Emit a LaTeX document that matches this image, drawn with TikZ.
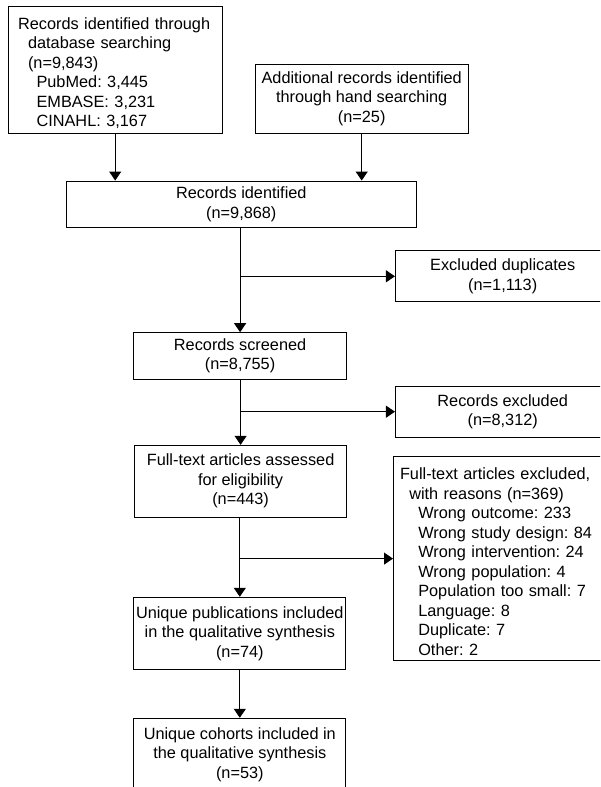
\documentclass[tikz,border=0pt]{standalone}
\usepackage{fontspec}
\setmainfont{Liberation Sans}
\frenchspacing
\usetikzlibrary{arrows.meta}
\tikzset{
  box/.style={draw, line width=1pt, align=center, inner sep=0pt, font=\fontsize{16.3}{19.5}\selectfont,
    execute at begin node={\rule{0pt}{18pt}}},
  arr/.style={line width=1pt, -{Triangle[width=12pt,length=9pt]}},
}
\begin{document}
\begin{tikzpicture}[x=1pt,y=-1pt]
      \useasboundingbox (0,0) rectangle (600,787);
      \clip (0,0) rectangle (600,787);
      \node[box, align=left, text width=194.3pt, inner xsep=9.7pt, minimum height=126.6pt] (db) at (115.2,70)
        {Records identified through\\\hspace*{10pt}database searching\\\hspace*{10pt}(n=9,843)\\\hspace*{18.5pt}PubMed: 3,445\\\hspace*{18.5pt}EMBASE: 3,231\\\hspace*{18.5pt}CINAHL: 3,167};
      \node[box, minimum width=213.3pt, minimum height=69.3pt] (hand) at (361.7,98.7) {Additional records identified\\through hand searching\\(n=25)};
      \node[box, minimum width=349.4pt, minimum height=46.5pt] (ident) at (241.3,204.3) {Records identified\\(n=9,868)};
      \node[box, minimum width=214.5pt, minimum height=51.3pt] (dup) at (502.7,276.3) {Excluded duplicates\\(n=1,113)};
      \node[box, minimum width=213.2pt, minimum height=46.6pt] (screen) at (240.1,356) {Records screened\\(n=8,755)};
      \node[box, minimum width=214.5pt, minimum height=51.3pt] (excl) at (502.7,411.7) {Records excluded\\(n=8,312)};
      \node[box, minimum width=212.2pt, minimum height=71.7pt] (full) at (240.6,481.2) {Full-text articles assessed\\for eligibility\\(n=443)};
      \node[box, align=left, text width=202pt, inner xsep=6.5pt, minimum height=203.8pt] (reasons) at (501,558.6)
        {Full-text articles excluded,\\\hspace*{9.3pt}with reasons (n=369)\\\hspace*{18.3pt}Wrong outcome: 233\\\hspace*{18.3pt}Wrong study design: 84\\\hspace*{18.3pt}Wrong intervention: 24\\\hspace*{18.3pt}Wrong population: 4\\\hspace*{18.3pt}Population too small: 7\\\hspace*{18.3pt}Language: 8\\\hspace*{18.3pt}Duplicate: 7\\\hspace*{18.3pt}Other: 2};
      \node[box, minimum width=212.3pt, minimum height=72pt] (pubs) at (239.8,633.3) {Unique publications included\\in the qualitative synthesis\\(n=74)};
      \node[box, minimum width=212.3pt, minimum height=72pt] (cohorts) at (239.8,754.3) {Unique cohorts included in\\the qualitative synthesis\\(n=53)};
      \draw[arr] (db.south) -- (db.south |- ident.north);
      \draw[arr] (hand.south) -- (hand.south |- ident.north);
      \draw[arr] (screen.north |- ident.south) -- (screen.north);
      \draw[arr] (screen.north |- dup.west) -- (dup.west);
      \draw[arr] (full.north |- screen.south) -- (full.north);
      \draw[arr] (full.north |- excl.west) -- (excl.west);
      \draw[arr] (pubs.north |- full.south) -- (pubs.north);
      \draw[arr] (pubs.north |- reasons.west) -- (reasons.west);
      \draw[arr] (pubs.south) -- (cohorts.north);
    \end{tikzpicture}
\end{document}
